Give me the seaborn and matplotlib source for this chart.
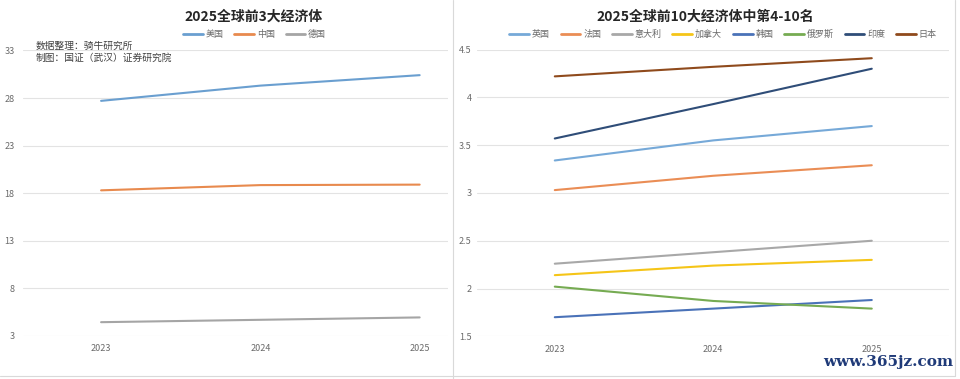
import pandas as pd
import matplotlib
matplotlib.use("Agg")
import matplotlib.pyplot as plt
import seaborn as sns

years = ["2023", "2024", "2025"]

# 前3大经济体（万亿美元）
top3_names = ["美国", "中国", "德国"]
us = [27.7, 29.3, 30.4]
cn = [18.3, 18.85, 18.9]
de = [4.45, 4.7, 4.95]

# 第4-10名
rest_names = ["英国", "法国", "意大利", "加拿大", "韩国", "俄罗斯", "印度", "日本"]
uk = [3.34, 3.55, 3.70]
fr = [3.03, 3.18, 3.29]
it = [2.26, 2.38, 2.50]
ca = [2.14, 2.24, 2.30]
kr = [1.70, 1.79, 1.88]
ru = [2.02, 1.87, 1.79]
inr = [3.57, 3.93, 4.30]
jp = [4.22, 4.32, 4.41]

top3_colors = ["#6a9fd0", "#e88a4e", "#a5a5a5"]
rest_colors = ["#76a9d8", "#ea8d55", "#a8a8a8", "#f5c518", "#4a72b8",
               "#76ab52", "#2f4d78", "#8f4a1c"]

def to_long(names, series):
    rows = []
    for n, vals in zip(names, series):
        for i, v in enumerate(vals):
            rows.append({"年份": i, "国家": n, "GDP": v})
    return pd.DataFrame(rows)

df1 = to_long(top3_names, [us, cn, de])
df2 = to_long(rest_names, [uk, fr, it, ca, kr, ru, inr, jp])

sns.set_style("white")
plt.rcParams["font.family"] = ["Noto Sans CJK SC", "DejaVu Sans"]

fig = plt.figure(figsize=(9.6, 3.79), dpi=100)
ax1 = fig.add_axes([0.024, 0.1135, 0.443, 0.7535])
ax2 = fig.add_axes([0.497, 0.1126, 0.492, 0.7565])

sns.lineplot(data=df1, x="年份", y="GDP", hue="国家", palette=top3_colors,
             linewidth=1.5, ax=ax1, legend=False)
sns.lineplot(data=df2, x="年份", y="GDP", hue="国家", palette=rest_colors,
             linewidth=1.5, ax=ax2, legend=False)

grey = "#6b6b6b"
for ax, ticks, lim, xlim in [
    (ax1, [3, 8, 13, 18, 23, 28, 33], (3, 33), (-0.49, 2.18)),
    (ax2, [1.5, 2, 2.5, 3, 3.5, 4, 4.5], (1.5, 4.5), (-0.49, 2.49)),
]:
    ax.set_xlim(*xlim)
    ax.set_ylim(*lim)
    ax.set_yticks(ticks)
    ax.set_yticklabels([f"{t:g}" for t in ticks])
    ax.set_xticks([0, 1, 2])
    ax.set_xticklabels(years)
    ax.grid(axis="y", color="#e3e3e3", linewidth=0.8)
    ax.set_axisbelow(True)
    for s in ax.spines.values():
        s.set_visible(False)
    ax.tick_params(length=0, labelsize=6.5, colors=grey, pad=6)
    ax.set_xlabel("")
    ax.set_ylabel("")

ax2.tick_params(axis="y", pad=4)

fig.text(0.264, 0.955, "2025全球前3大经济体", ha="center", va="center",
         fontsize=10, fontweight="bold", color="#262626")
fig.text(0.735, 0.955, "2025全球前10大经济体中第4-10名", ha="center", va="center",
         fontsize=10, fontweight="bold", color="#262626")

h1 = [plt.Line2D([], [], color=c, lw=2) for c in top3_colors]
fig.legend(h1, top3_names, loc="center", bbox_to_anchor=(0.265, 0.91), ncol=3,
           frameon=False, fontsize=6.5, handlelength=2.2, handletextpad=0.3,
           columnspacing=1.2, labelcolor=grey)
h2 = [plt.Line2D([], [], color=c, lw=2) for c in rest_colors]
fig.legend(h2, rest_names, loc="center", bbox_to_anchor=(0.753, 0.91), ncol=8,
           frameon=False, fontsize=6.5, handlelength=2.2, handletextpad=0.3,
           columnspacing=1.2, labelcolor=grey)

fig.text(0.037, 0.88, "数据整理：骑牛研究所", fontsize=7, color="#404040", va="center")
fig.text(0.037, 0.847, "制图：国证（武汉）证券研究院", fontsize=7, color="#404040", va="center")

# 分隔线与边框
fig.add_artist(plt.Line2D([0.472, 0.472], [0.0, 1.0], color="#d9d9d9", lw=0.8))
fig.add_artist(plt.Line2D([0.0, 0.995], [0.008, 0.008], color="#d9d9d9", lw=0.8))
fig.add_artist(plt.Line2D([0.995, 0.995], [0.008, 1.0], color="#d9d9d9", lw=0.8))

fig.text(0.993, 0.045, "www.365jz.com", ha="right", va="center",
         fontsize=11, fontweight="bold", color="#1f3a78", family="DejaVu Serif")

fig.savefig("out.png", dpi=100)
